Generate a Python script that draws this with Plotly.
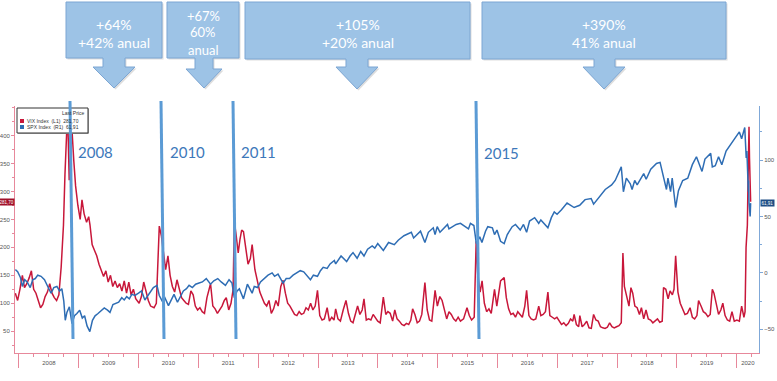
import plotly.graph_objects as go

# ---------------- data ----------------
vix_dates = ["2007-12-10","2007-12-24","2008-01-07","2008-01-22","2008-02-04","2008-02-18","2008-03-03","2008-03-17","2008-03-31","2008-04-14","2008-04-28","2008-05-12","2008-05-26","2008-06-09","2008-06-23","2008-07-07","2008-07-21","2008-08-04","2008-08-18","2008-09-01","2008-09-15","2008-09-29","2008-10-08","2008-10-16","2008-10-24","2008-11-03","2008-11-12","2008-11-20","2008-12-01","2008-12-12","2008-12-26",
"2009-01-09","2009-01-20","2009-02-02","2009-02-17","2009-03-02","2009-03-10","2009-03-23","2009-04-06","2009-04-20","2009-05-04","2009-05-18","2009-06-01","2009-06-15","2009-06-29","2009-07-13","2009-07-27","2009-08-10","2009-08-24","2009-09-07","2009-09-21","2009-10-05","2009-10-19","2009-11-02","2009-11-16","2009-11-30","2009-12-14",
"2010-01-04","2010-01-18","2010-02-01","2010-02-15","2010-03-01","2010-03-15","2010-04-05","2010-04-19","2010-05-07","2010-05-20","2010-06-01","2010-06-15","2010-06-29","2010-07-12","2010-07-26","2010-08-09","2010-08-23","2010-09-06","2010-09-20","2010-10-04","2010-10-18","2010-11-01","2010-11-16","2010-11-30","2010-12-13","2010-12-27",
"2011-01-10","2011-01-24","2011-02-07","2011-02-22","2011-03-16","2011-03-30","2011-04-13","2011-04-27","2011-05-11","2011-05-25","2011-06-08","2011-06-20","2011-07-05","2011-07-19","2011-08-01","2011-08-08","2011-08-18","2011-09-01","2011-09-12","2011-09-22","2011-10-03","2011-10-17","2011-10-31","2011-11-14","2011-11-25","2011-12-12","2011-12-28",
"2012-01-11","2012-01-25","2012-02-08","2012-02-22","2012-03-07","2012-03-21","2012-04-04","2012-04-18","2012-05-02","2012-05-18","2012-06-01","2012-06-15","2012-06-29","2012-07-13","2012-07-27","2012-08-10","2012-08-24","2012-09-07","2012-09-21","2012-10-05","2012-10-19","2012-11-02","2012-11-16","2012-11-30","2012-12-14","2012-12-28",
"2013-01-11","2013-01-25","2013-02-08","2013-02-25","2013-03-11","2013-03-25","2013-04-08","2013-04-18","2013-05-02","2013-05-17","2013-06-03","2013-06-20","2013-07-05","2013-07-19","2013-08-02","2013-08-16","2013-08-30","2013-09-13","2013-09-27","2013-10-08","2013-10-22","2013-11-05","2013-11-19","2013-12-03","2013-12-17","2013-12-31",
"2014-01-15","2014-02-03","2014-02-18","2014-03-03","2014-03-17","2014-04-01","2014-04-14","2014-04-28","2014-05-12","2014-05-27","2014-06-10","2014-06-24","2014-07-08","2014-07-21","2014-08-01","2014-08-15","2014-08-29","2014-09-12","2014-09-26","2014-10-15","2014-10-29","2014-11-12","2014-11-26","2014-12-16","2014-12-30",
"2015-01-14","2015-01-28","2015-02-11","2015-02-25","2015-03-11","2015-03-25","2015-04-08","2015-04-22","2015-05-06","2015-05-20","2015-06-08","2015-06-29","2015-07-13","2015-07-27","2015-08-12","2015-08-24","2015-09-03","2015-09-17","2015-09-29","2015-10-13","2015-10-27","2015-11-10","2015-11-24","2015-12-14","2015-12-28",
"2016-01-11","2016-01-20","2016-02-11","2016-02-24","2016-03-09","2016-03-23","2016-04-06","2016-04-20","2016-05-04","2016-05-18","2016-06-01","2016-06-16","2016-06-27","2016-07-11","2016-07-25","2016-08-08","2016-08-22","2016-09-09","2016-09-22","2016-10-06","2016-10-20","2016-11-04","2016-11-16","2016-12-01","2016-12-15","2016-12-29",
"2017-01-12","2017-01-26","2017-02-09","2017-02-23","2017-03-09","2017-03-22","2017-04-05","2017-04-13","2017-04-27","2017-05-11","2017-05-18","2017-06-01","2017-06-15","2017-06-29","2017-07-13","2017-07-27","2017-08-10","2017-08-24","2017-09-07","2017-09-21","2017-10-05","2017-10-19","2017-11-02","2017-11-16","2017-11-30","2017-12-14","2017-12-28",
"2018-01-12","2018-01-26","2018-02-05","2018-02-14","2018-02-28","2018-03-14","2018-03-26","2018-04-06","2018-04-19","2018-05-03","2018-05-17","2018-05-29","2018-06-12","2018-06-26","2018-07-10","2018-07-24","2018-08-07","2018-08-21","2018-09-04","2018-09-18","2018-10-03","2018-10-11","2018-10-25","2018-11-08","2018-11-20","2018-12-04","2018-12-14","2018-12-24",
"2019-01-07","2019-01-21","2019-02-04","2019-02-19","2019-03-06","2019-03-22","2019-04-05","2019-04-19","2019-05-03","2019-05-13","2019-05-28","2019-06-11","2019-06-25","2019-07-09","2019-07-23","2019-08-05","2019-08-15","2019-08-29","2019-09-12","2019-09-26","2019-10-08","2019-10-22","2019-11-05","2019-11-19","2019-12-03","2019-12-17",
"2020-01-02","2020-01-17","2020-01-31","2020-02-14","2020-02-21","2020-02-27","2020-03-06","2020-03-09","2020-03-16","2020-03-19","2020-03-23","2020-03-26"]
vix_values = [118,105,125,150,128,135,145,158,125,118,105,92,98,112,120,135,118,110,105,115,165,240,330,390,445,320,360,410,355,310,275,
250,285,260,245,255,240,205,195,185,170,160,148,158,138,150,130,140,128,135,122,140,118,138,115,125,108,
100,112,138,120,105,95,92,100,238,220,190,160,185,150,130,120,142,125,110,105,100,98,122,115,95,88,
92,85,82,110,135,95,90,82,88,95,105,110,88,100,125,246,225,190,215,231,228,195,170,180,205,160,135,
120,110,100,95,105,82,90,105,95,130,141,118,100,95,88,80,78,85,80,82,92,88,100,88,95,123,
78,70,72,92,68,75,70,90,72,68,88,105,82,68,65,78,95,80,88,108,70,72,70,80,75,68,
65,111,80,85,82,68,88,72,68,62,60,64,62,70,90,80,65,68,80,137,88,70,68,123,95,
112,105,90,72,85,80,72,68,75,68,72,92,78,70,75,211,150,120,140,100,85,90,82,125,95,
120,140,146,110,90,80,82,75,85,80,75,95,123,78,72,70,72,95,78,80,85,120,78,75,72,75,
68,62,65,60,64,72,68,80,62,58,78,58,62,68,56,55,80,70,68,58,56,55,57,65,58,56,58,
60,65,190,130,110,95,128,118,95,92,80,92,72,88,72,70,65,68,72,66,68,128,125,108,122,115,125,185,
120,100,90,80,82,92,75,72,78,105,95,85,82,76,80,125,118,98,80,88,100,78,70,68,85,68,
70,68,95,75,85,200,240,300,416,360,330,281.7]

spx_dates = ["2007-12-10","2007-12-24","2008-01-10","2008-01-22","2008-02-05","2008-02-20","2008-03-10","2008-03-25","2008-04-10","2008-04-25","2008-05-15","2008-06-05","2008-06-25","2008-07-15","2008-08-01","2008-08-20","2008-09-05","2008-09-19","2008-10-01","2008-10-10","2008-10-20","2008-11-04","2008-11-20","2008-12-05","2008-12-20",
"2009-01-06","2009-01-22","2009-02-05","2009-02-20","2009-03-09","2009-03-25","2009-04-10","2009-04-28","2009-05-15","2009-06-05","2009-06-25","2009-07-10","2009-07-28","2009-08-15","2009-09-01","2009-09-20","2009-10-05","2009-10-20","2009-11-05","2009-11-20","2009-12-10","2009-12-31",
"2010-01-19","2010-02-08","2010-02-25","2010-03-15","2010-04-01","2010-04-23","2010-05-07","2010-05-25","2010-06-10","2010-07-02","2010-07-20","2010-08-05","2010-08-26","2010-09-15","2010-10-01","2010-10-20","2010-11-05","2010-11-25","2010-12-15",
"2011-01-05","2011-01-25","2011-02-18","2011-03-16","2011-04-05","2011-04-29","2011-05-20","2011-06-15","2011-07-07","2011-07-25","2011-08-08","2011-08-25","2011-09-08","2011-09-22","2011-10-03","2011-10-27","2011-11-25","2011-12-08","2011-12-28",
"2012-01-15","2012-02-05","2012-03-01","2012-03-26","2012-04-10","2012-05-01","2012-06-01","2012-06-20","2012-07-10","2012-08-01","2012-08-20","2012-09-14","2012-10-05","2012-11-15","2012-12-03","2012-12-28",
"2013-01-15","2013-02-01","2013-02-25","2013-03-15","2013-04-10","2013-04-18","2013-05-21","2013-06-24","2013-07-15","2013-08-02","2013-08-27","2013-09-18","2013-10-08","2013-10-30","2013-11-27","2013-12-13","2013-12-31",
"2014-02-03","2014-03-07","2014-04-11","2014-05-05","2014-06-09","2014-07-24","2014-08-07","2014-09-18","2014-10-15","2014-11-05","2014-12-05","2014-12-16","2014-12-29",
"2015-01-15","2015-02-05","2015-03-02","2015-03-11","2015-04-24","2015-05-20","2015-06-10","2015-07-08","2015-07-20","2015-08-10","2015-08-25","2015-09-15","2015-09-28","2015-10-20","2015-11-03","2015-12-01","2015-12-14","2015-12-29",
"2016-01-20","2016-02-11","2016-03-01","2016-03-31","2016-04-20","2016-05-19","2016-06-08","2016-06-27","2016-07-15","2016-08-15","2016-09-09","2016-09-22","2016-11-04","2016-11-25","2016-12-13","2016-12-30",
"2017-01-26","2017-03-01","2017-04-13","2017-05-17","2017-06-19","2017-07-26","2017-08-10","2017-09-20","2017-10-20","2017-11-28","2017-12-20",
"2018-01-26","2018-02-08","2018-02-26","2018-03-22","2018-04-02","2018-04-18","2018-05-03","2018-06-12","2018-06-27","2018-07-25","2018-08-29","2018-09-20","2018-10-11","2018-10-29","2018-11-07","2018-11-23","2018-12-03","2018-12-24",
"2019-01-10","2019-02-05","2019-03-08","2019-04-05","2019-04-30","2019-06-03","2019-06-21","2019-07-26","2019-08-05","2019-08-23","2019-09-12","2019-10-02","2019-10-28","2019-11-27","2019-12-27",
"2020-01-17","2020-01-31","2020-02-19","2020-02-28","2020-03-03","2020-03-12","2020-03-13","2020-03-16","2020-03-23","2020-03-26"]
spx_values = [3,1,-4,-12,-6,-8,-13,-6,-5,-2,-3,-6,-12,-18,-13,-12,-16,-14,-25,-42,-35,-30,-45,-38,-36,
-33,-40,-38,-47,-52,-42,-38,-36,-34,-31,-33,-35,-28,-27,-26,-22,-24,-21,-23,-19,-20,-18,
-16,-24,-20,-16,-13,-11,-20,-25,-22,-29,-23,-19,-26,-20,-16,-14,-11,-13,-10,
-9,-8,-5,-10,-7,-5,-8,-11,-6,-9,-22,-16,-14,-20,-23,-10,-18,-12,-13,
-8,-5,-2,0,-3,-1,-9,-5,-5,-2,0,2,1,-6,-2,-3,
2,5,4,8,11,8,15,10,15,18,13,19,15,21,24,22,26,
20,27,25,29,33,36,31,37,27,36,40,34,41,
36,39,43,39,43,44,42,39,44,42,26,32,27,37,41,40,34,38,
28,26,34,41,43,38,43,36,46,49,44,47,40,49,54,52,
56,62,58,60,65,66,61,68,74,78,82,
94,72,84,79,74,82,78,88,83,92,97,98,85,74,84,72,84,58,
73,82,84,96,103,90,101,106,94,95,103,96,108,114,121,
125,119,129,102,108,72,82,62,50,61.91]

year_labels = ["2008","2009","2010","2011","2012","2013","2014","2015","2016","2017","2018","2019","2020"]
vix_ticks = [50,100,150,200,250,300,350,400]
spx_ticks = [-50,0,50,100]
box_lines = [["+64%", "+42% anual"], ["+67%", "60%", "anual"], ["+105%", "+20% anual"], ["+390%", "41% anual"]]
event_labels = ["2008", "2010", "2011", "2015"]

# ---------------- geometry helpers (pixel -> paper) ----------------
W, H = 777, 381
PL, PR, PT, PB = 15, 759, 106, 353
def px(x): return (x - PL) / (PR - PL)
def py(y): return (PB - y) / (PB - PT)

RED = "#C8173A"
BLUE = "#2E6DB4"
LRED = "#E7889B"
LBLUE = "#7FA8D8"
ANN = "#5B9BD5"

fig = go.Figure()
fig.add_trace(go.Scatter(x=spx_dates, y=spx_values, name="SPX Index (R1)", mode="lines",
                         line=dict(color=BLUE, width=1.5), yaxis="y2"))
fig.add_trace(go.Scatter(x=vix_dates, y=vix_values, name="VIX Index (L1)", mode="lines",
                         line=dict(color=RED, width=1.5), yaxis="y"))

year_bounds = [f"{y}-01-01" for y in range(2008, 2021)]
year_mids = [f"{y}-07-02" for y in range(2008, 2020)] + ["2020-03-09"]

tickfont = dict(family="Liberation Sans", size=6, color="#555555")
fig.update_layout(
    width=W, height=H, margin=dict(l=PL, r=W - PR, t=PT, b=H - PB, autoexpand=False),
    paper_bgcolor="white", plot_bgcolor="white", showlegend=False,
    xaxis=dict(range=["2007-12-08", "2020-05-16"], showgrid=False, zeroline=False, automargin=False,
               showline=True, linecolor=LRED, linewidth=1,
               tickvals=year_mids, ticktext=year_labels, ticks="", tickfont=tickfont,
               ticklabelstandoff=4,
               minor=dict(ticks="outside", dtick="M3", tick0="2008-01-01", ticklen=3, tickcolor=LRED)),
    xaxis2=dict(overlaying="x", matches="x", anchor="y", side="bottom", showgrid=False, automargin=False,
                showline=False, zeroline=False, tickvals=year_bounds, ticks="outside",
                ticklen=14, tickcolor=LRED, showticklabels=False),
    yaxis=dict(range=[11, 453], showgrid=False, zeroline=False, showline=True, automargin=False,
               linecolor=LRED, linewidth=1, tickvals=vix_ticks, ticks="outside", ticklen=3,
               tickcolor=LRED, tickfont=tickfont,
               minor=dict(ticks="outside", dtick=25, tick0=0, ticklen=2, tickcolor=LRED)),
    yaxis2=dict(range=[-71, 148], overlaying="y", side="right", showgrid=False, zeroline=False,
                automargin=False, showline=True, linecolor=LBLUE, linewidth=1, tickvals=spx_ticks,
                ticks="outside", ticklen=3, tickcolor=LBLUE, tickfont=tickfont,
                minor=dict(ticks="outside", dtick=25, tick0=0, ticklen=2, tickcolor=LBLUE)),
)
# invisible trace to activate xaxis2
fig.add_trace(go.Scatter(x=[year_bounds[0]], y=[vix_values[0]], xaxis="x2", yaxis="y",
                         mode="markers", marker=dict(opacity=0), hoverinfo="skip", showlegend=False))

shapes = []
annotations = []

# ---- legend box (Bloomberg style) ----
shapes.append(dict(type="rect", xref="paper", yref="paper", x0=px(18), x1=px(89), y0=py(134), y1=py(109),
                   fillcolor="#B0B0B0", line=dict(width=0), layer="above"))
shapes.append(dict(type="rect", xref="paper", yref="paper", x0=px(17), x1=px(88), y0=py(133), y1=py(108),
                   fillcolor="white", line=dict(color="#333333", width=1), layer="above"))
shapes.append(dict(type="rect", xref="paper", yref="paper", x0=px(20), x1=px(24), y0=py(123), y1=py(119),
                   fillcolor=RED, line=dict(width=0), layer="above"))
shapes.append(dict(type="rect", xref="paper", yref="paper", x0=px(20), x1=px(24), y0=py(129), y1=py(125),
                   fillcolor=BLUE, line=dict(width=0), layer="above"))
lf = dict(family="Liberation Sans", size=5, color="#333333")
annotations.append(dict(xref="paper", yref="paper", x=px(86), y=py(113), text="Last Price", showarrow=False,
                        xanchor="right", yanchor="middle", font=lf))
annotations.append(dict(xref="paper", yref="paper", x=px(25), y=py(121),
                        text=f"VIX Index&nbsp;&nbsp;(L1)&nbsp;&nbsp;{vix_values[-1]:.2f}".replace(".", ","),
                        showarrow=False, xanchor="left", yanchor="middle", font=lf))
annotations.append(dict(xref="paper", yref="paper", x=px(25), y=py(127),
                        text=f"SPX Index&nbsp;&nbsp;(R1)&nbsp;&nbsp;{spx_values[-1]:.2f}".replace(".", ","),
                        showarrow=False, xanchor="left", yanchor="middle", font=lf))

# ---- last value badges ----
annotations.append(dict(xref="paper", yref="y", x=0, y=vix_values[-1], xanchor="right", yanchor="middle",
                        text=f"{vix_values[-1]:.2f}".replace(".", ","), showarrow=False,
                        font=dict(family="Liberation Sans", size=4.5, color="white"),
                        bgcolor="#A0102A", borderpad=0.5))
annotations.append(dict(xref="paper", yref="y2", x=1, y=spx_values[-1], xanchor="left", yanchor="middle",
                        text=f"{spx_values[-1]:.2f}".replace(".", ","), showarrow=False, xshift=1,
                        font=dict(family="Liberation Sans", size=4.5, color="white"),
                        bgcolor="#1F4E85", borderpad=0.5))

# ---- vertical event lines & labels ----
vlines = [((70, 101), (73, 339)), ((161, 101), (164, 339)), ((233, 101), (236, 339)), ((476, 101), (479, 339))]
for (xt, yt), (xb, yb) in vlines:
    shapes.append(dict(type="line", xref="paper", yref="paper", x0=px(xt), y0=py(yt), x1=px(xb), y1=py(yb),
                       line=dict(color=ANN, width=3), layer="above"))
label_pos = [(95, 152), (187, 152), (258, 152), (501, 153)]
for txt, (x, y) in zip(event_labels, label_pos):
    annotations.append(dict(xref="paper", yref="paper", x=px(x), y=py(y), text=txt, showarrow=False,
                            xanchor="center", yanchor="middle",
                            font=dict(family="Lato", size=15, color="#3D78BA")))

# ---- callout boxes with down arrows ----
boxes = [
    # x0, x1, y0, y1, stemL, stemR, headL, headR, tipX, yStemEnd, yTip
    (66, 162, 2, 58, 103, 125, 93, 135, 114, 67, 88),
    (167, 239, 2, 58, 195, 213, 186, 222, 204, 69, 88),
    (245, 470, 2, 59, 346, 368, 336, 378, 357, 67, 89),
    (482, 726, 2, 59, 594, 615, 583, 625, 604, 67, 89),
]
line_y = {2: [24, 42], 3: [15.5, 32.5, 49.5]}
for (x0, x1, y0, y1, sl, sr, hl, hr, tx, ys, yt), lines in zip(boxes, box_lines):
    pts = [(x0, y0), (x1, y0), (x1, y1), (sr, y1), (sr, ys), (hr, ys), (tx, yt), (hl, ys), (sl, ys), (sl, y1), (x0, y1)]
    path = "M " + " L ".join(f"{px(a):.5f},{py(b):.5f}" for a, b in pts) + " Z"
    spath = "M " + " L ".join(f"{px(a+1.5):.5f},{py(b+1.5):.5f}" for a, b in pts) + " Z"
    shapes.append(dict(type="path", xref="paper", yref="paper", path=spath,
                       fillcolor="rgba(120,120,120,0.25)", line=dict(width=0), layer="above"))
    shapes.append(dict(type="path", xref="paper", yref="paper", path=path,
                       fillcolor="#9DC3E6", line=dict(color="#7DA6D3", width=1), layer="above"))
    fs = 14 if len(lines) == 2 else 13
    for t, ly in zip(lines, line_y[len(lines)]):
        annotations.append(dict(xref="paper", yref="paper", x=px((x0 + x1) / 2), y=py(ly), text=t,
                                showarrow=False, xanchor="center", yanchor="middle", align="center",
                                font=dict(family="Lato", size=fs, color="white")))

fig.update_layout(shapes=shapes, annotations=annotations)
fig.write_html("out.html", config={"displayModeBar": False},
               post_script="document.body.style.margin='0';document.body.style.overflow='hidden';")
